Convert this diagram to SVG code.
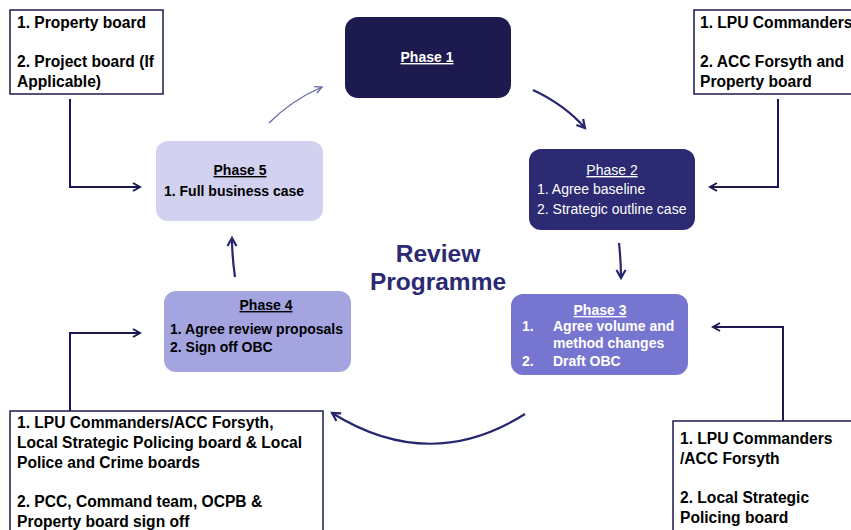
<svg xmlns="http://www.w3.org/2000/svg" width="851" height="530" viewBox="0 0 851 530">
<defs>
<marker id="ah" markerWidth="10" markerHeight="10" refX="8" refY="5" orient="auto" markerUnits="userSpaceOnUse">
<path d="M1,1 L8,5 L1,9" fill="none" stroke="#1c1a4f" stroke-width="2"/>
</marker>
<marker id="ah2" markerWidth="10" markerHeight="10" refX="8" refY="5" orient="auto" markerUnits="userSpaceOnUse">
<path d="M1,1.5 L8,5 L1,8.5" fill="none" stroke="#6464a8" stroke-width="1.3"/>
</marker>
<marker id="ah3" markerWidth="12" markerHeight="12" refX="9" refY="6" orient="auto" markerUnits="userSpaceOnUse">
<path d="M1,1.5 L9,6 L1,10.5" fill="none" stroke="#27266e" stroke-width="2.2"/>
</marker>
</defs>
<style>
.t{font-family:"Liberation Sans",Arial,sans-serif;font-weight:bold;font-size:15.6px;fill:#000}
.ph{font-family:"Liberation Sans",Arial,sans-serif;font-size:14px}
.b{font-weight:bold}
.u{text-decoration:underline}
.box{fill:#fff;stroke:#1c1a4f;stroke-width:1.5}
.c{fill:none;stroke:#1c1a4f;stroke-width:2}
.a{fill:none;stroke:#27266e;stroke-width:2.2}
</style>
<rect width="851" height="530" fill="#fff"/>
<g id="connectors">
<path class="c" d="M70,99 V187 H140" marker-end="url(#ah)"/>
<path class="c" d="M778,99 V187 H710" marker-end="url(#ah)"/>
<path class="c" d="M70,411 V333 H140" marker-end="url(#ah)"/>
<path class="c" d="M783,421 V327 H713" marker-end="url(#ah)"/>
<path class="a" d="M533,90 Q565,105 585,128" marker-end="url(#ah3)"/>
<path class="a" d="M619,243 Q621,262 621,278" marker-end="url(#ah3)"/>
<path class="a" d="M525,414 Q430,474 332,413" marker-end="url(#ah3)"/>
<path class="a" d="M235,277 Q232,256 232,238" marker-end="url(#ah3)"/>
<path d="M269,123 Q292,100 322,87" fill="none" stroke="#6464a8" stroke-width="1.3" marker-end="url(#ah2)"/>
</g>
<g id="board-tl">
<rect class="box" x="10" y="10" width="153" height="84"/>
<text class="t" x="17" y="28">1. Property board</text>
<text class="t" x="17" y="67">2. Project board (If</text>
<text class="t" x="17" y="87">Applicable)</text>
</g>
<g id="board-tr">
<rect class="box" x="694" y="10" width="170" height="84"/>
<text class="t" x="700" y="28">1. LPU Commanders</text>
<text class="t" x="700" y="67">2. ACC Forsyth and</text>
<text class="t" x="700" y="87">Property board</text>
</g>
<g id="phase1">
<rect x="345" y="17" width="166" height="81" rx="13" fill="#1c1a4f"/>
<text class="ph b u" x="427" y="62" text-anchor="middle" fill="#fff">Phase 1</text>
</g>
<g id="phase2">
<rect x="529" y="149" width="166" height="81" rx="12" fill="#2b2a72"/>
<text class="ph u" x="612" y="175" text-anchor="middle" fill="#fff">Phase 2</text>
<text class="ph" x="537" y="194" fill="#fff">1. Agree baseline</text>
<text class="ph" x="537" y="214" fill="#fff">2. Strategic outline case</text>
</g>
<g id="phase3">
<rect x="511" y="294" width="177" height="81" rx="12" fill="#7676d0"/>
<text class="ph b u" x="600" y="315" text-anchor="middle" fill="#fff">Phase 3</text>
<text class="ph b" x="522" y="331" fill="#fff">1.</text>
<text class="ph b" x="553" y="331" fill="#fff">Agree volume and</text>
<text class="ph b" x="553" y="348" fill="#fff">method changes</text>
<text class="ph b" x="522" y="366" fill="#fff">2.</text>
<text class="ph b" x="553" y="366" fill="#fff">Draft OBC</text>
</g>
<g id="phase4">
<rect x="164" y="291" width="187" height="81" rx="12" fill="#a4a4e0"/>
<text class="ph b u" x="266" y="310" text-anchor="middle" fill="#000">Phase 4</text>
<text class="ph b" x="170" y="334" fill="#000">1. Agree review proposals</text>
<text class="ph b" x="170" y="352" fill="#000">2. Sign off OBC</text>
</g>
<g id="phase5">
<rect x="156" y="141" width="167" height="80" rx="12" fill="#d2d2f0"/>
<text class="ph b u" x="240" y="175" text-anchor="middle" fill="#000">Phase 5</text>
<text class="ph b" x="164" y="196" fill="#000">1. Full business case</text>
</g>
<g id="title">
<text x="438" y="262" text-anchor="middle" font-family="Liberation Sans, Arial, sans-serif" font-weight="bold" font-size="24.5" fill="#2b2a72">Review</text>
<text x="438" y="290" text-anchor="middle" font-family="Liberation Sans, Arial, sans-serif" font-weight="bold" font-size="24.5" fill="#2b2a72">Programme</text>
</g>
<g id="board-bl">
<rect class="box" x="10" y="411" width="313" height="130"/>
<text class="t" x="17" y="428">1. LPU Commanders/ACC Forsyth,</text>
<text class="t" x="17" y="448">Local Strategic Policing board &amp; Local</text>
<text class="t" x="17" y="468">Police and Crime boards</text>
<text class="t" x="17" y="507">2. PCC, Command team, OCPB &amp;</text>
<text class="t" x="17" y="527">Property board sign off</text>
</g>
<g id="board-br">
<rect class="box" x="673" y="421" width="190" height="120"/>
<text class="t" x="680" y="444">1. LPU Commanders</text>
<text class="t" x="680" y="464">/ACC Forsyth</text>
<text class="t" x="680" y="503">2. Local Strategic</text>
<text class="t" x="680" y="523">Policing board</text>
</g>
</svg>
